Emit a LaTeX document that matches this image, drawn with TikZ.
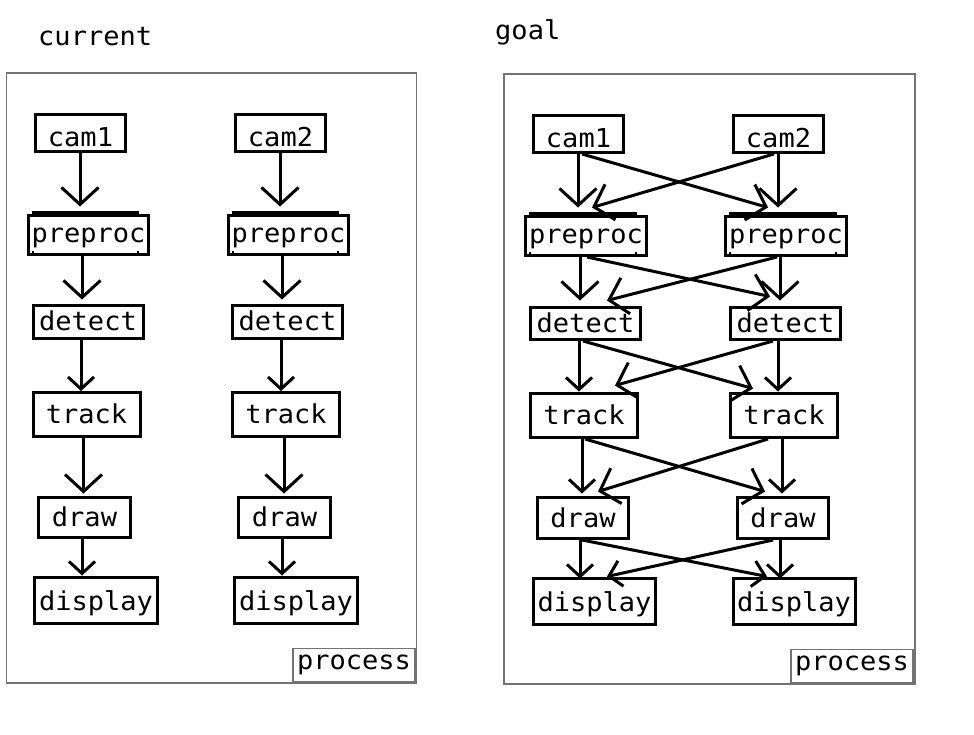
\documentclass[tikz,border=0pt]{standalone}
\usepackage{fontspec}
\newfontfamily\monof[FakeStretch=1.04]{DejaVu Sans Mono}
\usetikzlibrary{arrows.meta}
\definecolor{framegray}{gray}{0.45}
\tikzset{
  box/.style={draw=black, line width=3pt, inner sep=0pt,
    font=\monof\fontsize{26}{30}\selectfont, text height=17pt, text depth=0pt},
  cambox/.style={box, minimum width=90pt, minimum height=37pt, text height=26pt},
  prebox/.style={box, minimum width=120pt, minimum height=39pt, text height=14pt},
  detbox/.style={box, minimum width=110pt, minimum height=33pt},
  trkbox/.style={box, minimum width=107pt, minimum height=44pt},
  drwbox/.style={box, minimum width=92pt, minimum height=40pt, text height=18pt},
  dspbox/.style={box, minimum width=123pt, minimum height=46pt, text height=20pt},
  procbox/.style={draw=framegray, line width=1.5pt, inner sep=0pt,
    minimum width=122pt, minimum height=33pt,
    font=\monof\fontsize{26}{30}\selectfont, text height=8pt, text depth=0pt},
  panel/.style={draw=framegray, line width=1.5pt, inner sep=0pt,
    minimum width=410pt, minimum height=610pt},
  title/.style={anchor=base west, inner sep=0pt, font=\monof\fontsize{26}{30}\selectfont},
  arr/.style={draw=black, line width=3pt, -{Straight Barb[length=17pt,width=37pt]}},
  arrs/.style={draw=black, line width=3pt, -{Straight Barb[length=12pt,width=26pt]}},
  topbar/.style={draw=black, line width=3pt},
  tickmark/.style={draw=black, line width=2pt}
}
\begin{document}
\begin{tikzpicture}[x=1pt,y=-1pt]
\useasboundingbox (0,0) rectangle (974,734);
% titles
\node[title] (tcur) at (38,45) {current};
\node[title] (tgoal) at (495,39) {goal};
% panels
\node[panel] (lframe) at (211.5,378) {};
\node[panel, minimum width=411pt] (rframe) at (709.5,379) {};
\node[procbox] (lproc) at (354,665) {process\hspace{4pt}};
\node[procbox] (rproc) at (852,666) {process\hspace{4pt}};
% left panel nodes
\node[cambox] (lc1) at (80.5,133) {cam1};
\node[cambox] (lc2) at (280.5,133) {cam2};
\node[prebox] (lp1) at (88.5,235) {preproc\hspace{2pt}};
\node[prebox] (lp2) at (288.5,235) {preproc\hspace{2pt}};
\node[detbox] (ld1) at (88,322) {detect\hspace{6pt}};
\node[detbox] (ld2) at (287.5,322) {detect\hspace{6pt}};
\node[trkbox] (lt1) at (86.5,414.5) {track\hspace{6pt}};
\node[trkbox] (lt2) at (286,414.5) {track\hspace{6pt}};
\node[drwbox] (lw1) at (84.5,517.5) {draw\hspace{10pt}};
\node[drwbox] (lw2) at (284.5,517.5) {draw\hspace{10pt}};
\node[dspbox] (ls1) at (96,600) {display\hspace{5pt}};
\node[dspbox] (ls2) at (296,600) {display\hspace{5pt}};
% right panel nodes
\node[cambox] (rc1) at (578.5,134) {cam1};
\node[cambox] (rc2) at (778.5,134) {cam2};
\node[prebox, minimum width=121pt] (rp1) at (586,236) {preproc\hspace{2pt}};
\node[prebox, minimum width=121pt] (rp2) at (786,236) {preproc\hspace{2pt}};
\node[detbox, minimum height=32pt] (rd1) at (585.5,323.5) {detect\hspace{6pt}};
\node[detbox, minimum height=32pt] (rd2) at (785.5,323.5) {detect\hspace{6pt}};
\node[trkbox] (rt1) at (584,415.5) {track\hspace{6pt}};
\node[trkbox] (rt2) at (784,415.5) {track\hspace{6pt}};
\node[drwbox, minimum width=91pt, minimum height=41pt] (rw1) at (583,518) {draw\hspace{10pt}};
\node[drwbox, minimum width=91pt, minimum height=41pt] (rw2) at (783,518) {draw\hspace{10pt}};
\node[dspbox, minimum width=122pt] (rs1) at (594.5,601.5) {display\hspace{5pt}};
\node[dspbox, minimum width=122pt] (rs2) at (794,601.5) {display\hspace{5pt}};
% preproc box marks
\foreach \p in {lp1,lp2,rp1,rp2}{
  \draw[topbar] ([xshift=5pt,yshift=1.5pt]\p.north west) -- ([xshift=-11pt,yshift=1.5pt]\p.north east);
  \draw[tickmark] ([xshift=6pt]\p.south west) -- ([xshift=6pt,yshift=5pt]\p.south west);
  \draw[tickmark] ([xshift=-12pt]\p.south east) -- ([xshift=-12pt,yshift=5pt]\p.south east);
}
% left panel connectors
\draw[arr] ([xshift=-0.5pt]lc1.south) -- ([xshift=-8.5pt,yshift=7.5pt]lp1.north);
\draw[arr] ([xshift=-0.5pt]lc2.south) -- ([xshift=-8.5pt,yshift=7.5pt]lp2.north);
\draw[arr] ([xshift=-6.5pt]lp1.south) -- ([xshift=-6pt,yshift=4.5pt]ld1.north);
\draw[arr] ([xshift=-6.5pt]lp2.south) -- ([xshift=-5.5pt,yshift=4.5pt]ld2.north);
\draw[arrs] ([xshift=-7pt]ld1.south) -- ([xshift=-5.5pt]lt1.north);
\draw[arrs] ([xshift=-6.5pt]ld2.south) -- ([xshift=-5pt]lt2.north);
\draw[arr] ([xshift=-3pt]lt1.south) -- ([xshift=-1pt,yshift=2.5pt]lw1.north);
\draw[arr] ([xshift=-2pt]lt2.south) -- ([xshift=-0.5pt,yshift=2.5pt]lw2.north);
\draw[arrs] ([xshift=-2.5pt]lw1.south) -- ([xshift=-14pt]ls1.north);
\draw[arrs] ([xshift=-2.5pt]lw2.south) -- ([xshift=-14pt]ls2.north);
% right panel connectors
\draw[arr] ([xshift=-0.5pt]rc1.south) -- ([xshift=-8pt,yshift=7.5pt]rp1.north);
\draw[arr] ([xshift=-0.5pt]rc2.south) -- ([xshift=-8pt,yshift=7.5pt]rp2.north);
\draw[arr] ([xshift=3.5pt]rc1.south) -- ([xshift=-18pt,yshift=7.5pt]rp2.north);
\draw[arr] ([xshift=-4.5pt]rc2.south) -- ([xshift=6pt,yshift=7.5pt]rp1.north);
\draw[arr] ([xshift=-6pt]rp1.south) -- ([xshift=-5.5pt,yshift=5.5pt]rd1.north);
\draw[arr] ([xshift=-6pt]rp2.south) -- ([xshift=-5.5pt,yshift=5.5pt]rd2.north);
\draw[arr] ([xshift=1pt]rp1.south) -- ([xshift=-15.5pt,yshift=9.5pt]rd2.north);
\draw[arr] ([xshift=-9pt]rp2.south) -- ([xshift=21.5pt,yshift=5.5pt]rd1.north);
\draw[arrs] ([xshift=-6.5pt]rd1.south) -- ([xshift=-5pt,yshift=0.5pt]rt1.north);
\draw[arrs] ([xshift=-7.5pt]rd2.south) -- ([xshift=-6pt,yshift=0.5pt]rt2.north);
\draw[arr] ([xshift=-2.5pt]rd1.south) -- ([xshift=-31pt,yshift=3.5pt]rt2.north);
\draw[arr] ([xshift=-12.5pt]rd2.south) -- ([xshift=31pt,yshift=6.5pt]rt1.north);
\draw[arrs] ([xshift=-2pt]rt1.south) -- ([xshift=-1pt,yshift=2.5pt]rw1.north);
\draw[arrs] ([xshift=-2pt]rt2.south) -- ([xshift=-1pt,yshift=2.5pt]rw2.north);
\draw[arr] ([xshift=1pt]rt1.south) -- ([xshift=-18pt,yshift=4.5pt]rw2.north);
\draw[arr] ([xshift=-16pt]rt2.south) -- ([xshift=15pt,yshift=4.5pt]rw1.north);
\draw[arrs] ([xshift=-3pt]rw1.south) -- ([xshift=-14.5pt,yshift=-1.5pt]rs1.north);
\draw[arrs] ([xshift=-3pt]rw2.south) -- ([xshift=-14pt,yshift=-1.5pt]rs2.north);
\draw[arrs] ([xshift=-1pt]rw1.south) -- ([xshift=-27pt,yshift=0.5pt]rs2.north);
\draw[arrs] ([xshift=-10pt]rw2.south) -- ([xshift=12.5pt,yshift=0.5pt]rs1.north);
\end{tikzpicture}
\end{document}
